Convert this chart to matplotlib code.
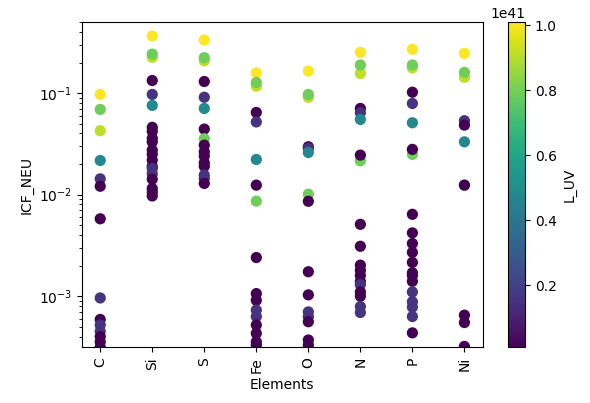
import matplotlib
matplotlib.use("Agg")
import matplotlib.pyplot as plt
import numpy as np

elements = ["C", "Si", "S", "Fe", "O", "N", "P", "Ni"]

# ICF_NEU per element, with the L_UV (in 1e41) of the model each point comes from
icf_C = [0.097, 0.069, 0.0426, 0.0217, 0.0143, 0.0121, 0.00578, 0.00096,
         5.9e-4, 5.2e-4, 4.5e-4, 4.0e-4, 3.55e-4, 3.15e-4]
luv_C = [1.01, 0.79, 0.91, 0.48, 0.16, 0.009, 0.009, 0.16,
         0.009, 0.16, 0.16, 0.009, 0.009, 0.009]

icf_Si = [0.365, 0.225, 0.242, 0.133, 0.097, 0.0757, 0.046, 0.042, 0.0358, 0.033,
          0.0274, 0.025, 0.0219, 0.019, 0.018, 0.016, 0.0142, 0.0115, 0.0106, 0.0097]
luv_Si = [1.01, 0.91, 0.79, 0.009, 0.16, 0.48, 0.009, 0.009, 0.009, 0.009,
          0.009, 0.009, 0.009, 0.009, 0.16, 0.16, 0.009, 0.009, 0.009, 0.009]

icf_S = [0.333, 0.208, 0.223, 0.130, 0.091, 0.0706, 0.0442, 0.0355, 0.0307,
         0.0264, 0.024, 0.0206, 0.019, 0.0156, 0.0145, 0.0129]
luv_S = [1.01, 0.91, 0.79, 0.009, 0.16, 0.48, 0.009, 0.79, 0.009,
         0.009, 0.009, 0.009, 0.009, 0.16, 0.16, 0.009]

icf_Fe = [0.158, 0.117, 0.127, 0.0645, 0.052, 0.0222, 0.0124, 0.00863, 0.0024,
          0.00106, 0.00091, 7.3e-4, 6.3e-4, 5.2e-4, 4.3e-4, 3.55e-4, 3.3e-4]
luv_Fe = [1.01, 0.91, 0.79, 0.009, 0.16, 0.48, 0.009, 0.79, 0.009,
          0.009, 0.009, 0.16, 0.16, 0.009, 0.009, 0.009, 0.009]

icf_O = [0.165, 0.091, 0.097, 0.0296, 0.0285, 0.026, 0.0101, 0.0086, 0.00174,
         0.00103, 7.0e-4, 6.3e-4, 5.6e-4, 3.7e-4, 3.3e-4]
luv_O = [1.01, 0.91, 0.79, 0.009, 0.16, 0.48, 0.79, 0.009, 0.009,
         0.009, 0.16, 0.16, 0.009, 0.009, 0.009]

icf_N = [0.252, 0.156, 0.189, 0.0706, 0.064, 0.055, 0.0215, 0.0245, 0.0051, 0.0031,
         0.00202, 0.0018, 0.0016, 0.0014, 0.0013, 0.0011, 0.001, 7.9e-4, 6.9e-4]
luv_N = [1.01, 0.91, 0.79, 0.009, 0.16, 0.48, 0.79, 0.009, 0.009, 0.009,
         0.009, 0.009, 0.009, 0.009, 0.16, 0.009, 0.009, 0.16, 0.16]

icf_P = [0.27, 0.177, 0.189, 0.102, 0.079, 0.051, 0.0249, 0.0279, 0.0064, 0.0042,
         0.0033, 0.0027, 0.00215, 0.0017, 0.0016, 0.0014, 0.0011, 8.8e-4, 7.8e-4,
         6.3e-4, 4.35e-4]
luv_P = [1.01, 0.91, 0.79, 0.009, 0.16, 0.48, 0.79, 0.009, 0.009, 0.009,
         0.009, 0.009, 0.009, 0.009, 0.009, 0.009, 0.16, 0.16, 0.16,
         0.16, 0.009]

icf_Ni = [0.246, 0.143, 0.160, 0.0534, 0.0484, 0.0331, 0.0124, 0.0124,
          6.5e-4, 5.5e-4, 3.2e-4]
luv_Ni = [1.01, 0.91, 0.79, 0.16, 0.009, 0.48, 0.79, 0.009,
          0.009, 0.009, 0.009]

icf_all = [icf_C, icf_Si, icf_S, icf_Fe, icf_O, icf_N, icf_P, icf_Ni]
luv_all = [luv_C, luv_Si, luv_S, luv_Fe, luv_O, luv_N, luv_P, luv_Ni]

x, y, c = [], [], []
for el, vals, luv in zip(elements, icf_all, luv_all):
    x += [el] * len(vals)
    y += vals
    c += luv
c = np.array(c) * 1e41

fig = plt.figure(figsize=(5.9, 4.03), dpi=100)
ax = fig.add_axes([0.139, 0.138, 0.679, 0.808])
cax = fig.add_axes([0.861, 0.138, 0.029, 0.808])

sc = ax.scatter(x, y, c=c, cmap="viridis", s=50)
ax.set_yscale("log")
ax.set_ylim(3.13e-4, 0.504)
ax.set_xlabel("Elements")
ax.set_ylabel("ICF_NEU")
plt.setp(ax.get_xticklabels(), rotation=90)

cb = fig.colorbar(sc, cax=cax)
cb.set_label("L_UV")

fig.savefig("out.png", dpi=100)
